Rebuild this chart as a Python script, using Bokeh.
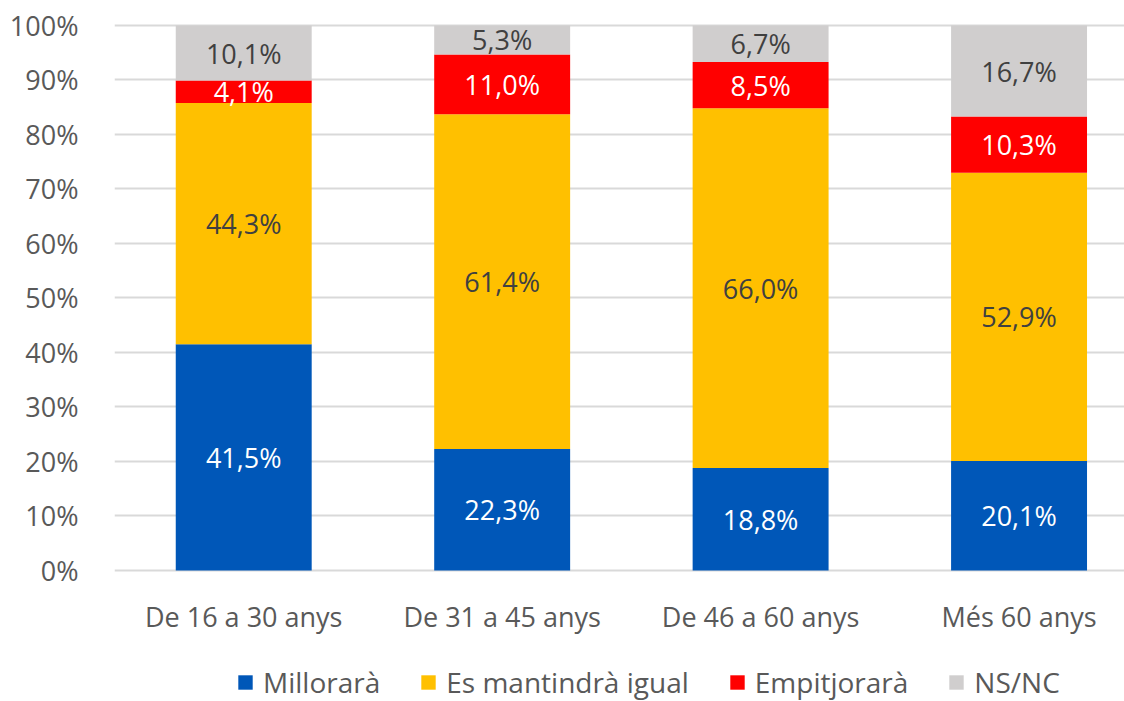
from bokeh.plotting import figure
from bokeh.models import ColumnDataSource, FixedTicker, Legend, LegendItem, Range1d
from bokeh.embed import file_html
from bokeh.resources import INLINE
from bokeh.core.properties import value

categories = ["De 16 a 30 anys", "De 31 a 45 anys", "De 46 a 60 anys", "Més 60 anys"]
series = ["Millorarà", "Es mantindrà igual", "Empitjorarà", "NS/NC"]
millorara = [41.5, 22.3, 18.8, 20.1]
igual = [44.3, 61.4, 66.0, 52.9]
empitjorara = [4.1, 11.0, 8.5, 10.3]
nsnc = [10.1, 5.3, 6.7, 16.7]
y_ticks = [0, 10, 20, 30, 40, 50, 60, 70, 80, 90, 100]

colors = ["#0057B8", "#FFC000", "#FF0000", "#D0CECE"]
label_colors = ["#FFFFFF", "#404040", "#FFFFFF", "#404040"]
FONT = "Open Sans"
FS = "27px"

xs = list(range(len(categories)))
data = dict(x=xs)
keys = ["s0", "s1", "s2", "s3"]
vals = [millorara, igual, empitjorara, nsnc]
for k, v in zip(keys, vals):
    data[k] = v
src = ColumnDataSource(data)

p = figure(width=1124, height=701, output_backend="svg", toolbar_location=None,
           x_range=Range1d(-0.5, 3.408), y_range=Range1d(-24.04, 100.55),
           min_border_left=114, min_border_right=0, min_border_top=22, min_border_bottom=0)
p.outline_line_color = None
p.background_fill_color = "white"
p.border_fill_color = "white"

renderers = p.vbar_stack(keys, x="x", width=0.526, color=colors, source=src, line_color=None)

for i, k in enumerate(keys):
    mids = []
    txt = []
    for j in range(len(categories)):
        base = sum(vals[m][j] for m in range(i))
        mids.append(base + vals[i][j] / 2.0)
        txt.append(f"{vals[i][j]:.1f}".replace(".", ",") + "%")
    lsrc = ColumnDataSource(dict(x=xs, y=mids, t=txt))
    p.text(x="x", y="y", text="t", source=lsrc, text_align="center", text_baseline="middle",
           text_color=label_colors[i], text_font=value(FONT), text_font_size=FS)

p.xgrid.grid_line_color = None
p.ygrid.grid_line_color = "#D9D9D9"
p.ygrid.grid_line_width = 2
p.yaxis.ticker = FixedTicker(ticks=y_ticks)
p.yaxis.major_label_overrides = {t: f"{t}%" for t in y_ticks}
p.xaxis.ticker = FixedTicker(ticks=xs)
p.xaxis.major_label_overrides = {i: c for i, c in enumerate(categories)}
p.xaxis.fixed_location = 0
for ax in (p.xaxis, p.yaxis):
    ax.axis_line_color = None
    ax.major_tick_line_color = None
    ax.minor_tick_line_color = None
    ax.major_label_text_font = FONT
    ax.major_label_text_font_size = FS
    ax.major_label_text_color = "#595959"
p.yaxis.major_label_standoff = 30
p.xaxis.major_label_standoff = 22

legend = Legend(items=[LegendItem(label=s, renderers=[r]) for s, r in zip(series, renderers)],
                orientation="horizontal", location=(122, 0),
                label_text_font=FONT, label_text_font_size="28px", label_text_color="#595959",
                glyph_width=18, glyph_height=18, label_standoff=9, spacing=39,
                padding=0, margin=0, border_line_color=None, background_fill_alpha=0)
p.add_layout(legend, "center")

open("out.html", "w").write(file_html(p, INLINE))
